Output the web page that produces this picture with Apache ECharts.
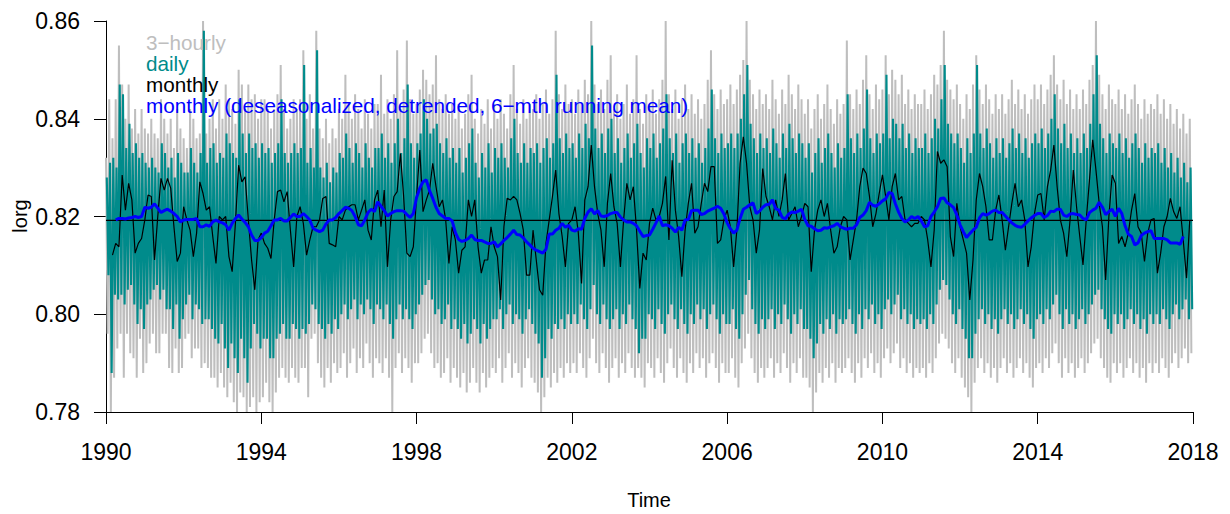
<!DOCTYPE html>
<html><head><meta charset="utf-8">
<script src="https://cdn.jsdelivr.net/npm/echarts@6/dist/echarts.min.js"></script>
<style>html,body{margin:0;padding:0;background:#fff}#c{width:1230px;height:514px}</style>
</head><body><div id="c"></div>
<script>
// ---- data (months counted from Jan 1990) ----
const yearTicks = [1990,1994,1998,2002,2006,2010,2014,2018];
const yTicks = [0.78,0.80,0.82,0.84,0.86];
const meanLevel = 0.8192;

// 3-hourly series: monthly max / min (one row per year, 1990..2017)
const grayHi = [
.832,.844,.836,.844,.855,.847,.840,.847,.838,.842,.837,.842,
.838,.837,.840,.837,.836,.844,.840,.837,.840,.834,.842,.838,
.836,.834,.842,.840,.836,.837,.860,.837,.840,.844,.838,.844,
.840,.847,.844,.842,.839,.850,.847,.842,.847,.844,.845,.840,
.844,.844,.842,.838,.842,.845,.851,.842,.838,.840,.844,.842,
.844,.854,.840,.845,.838,.858,.838,.836,.840,.835,.838,.836,
.842,.840,.849,.843,.840,.845,.842,.838,.844,.841,.838,.843,
.843,.849,.841,.844,.840,.845,.854,.842,.846,.856,.844,.841,
.843,.846,.850,.848,.845,.847,.853,.844,.842,.845,.841,.843,
.840,.843,.838,.841,.845,.849,.840,.837,.842,.839,.844,.838,
.843,.840,.844,.841,.838,.845,.851,.842,.839,.844,.840,.843,
.842,.845,.840,.843,.846,.841,.844,.858,.845,.842,.847,.843,
.844,.841,.846,.843,.848,.845,.860,.847,.843,.846,.842,.848,
.853,.842,.845,.840,.843,.847,.841,.844,.853,.842,.839,.845,
.843,.846,.841,.844,.848,.860,.845,.842,.846,.840,.844,.847,
.842,.845,.841,.844,.840,.843,.848,.854,.845,.842,.846,.843,
.844,.847,.843,.846,.849,.852,.860,.848,.845,.842,.846,.843,
.845,.842,.848,.844,.841,.846,.843,.849,.845,.842,.847,.844,
.841,.844,.838,.842,.845,.840,.843,.847,.842,.839,.844,.841,
.843,.856,.845,.842,.846,.843,.848,.853,.845,.842,.847,.844,
.846,.853,.845,.850,.848,.845,.849,.843,.846,.842,.845,.843,
.843,.846,.842,.845,.849,.847,.851,.858,.848,.846,.844,.847,
.843,.840,.845,.842,.847,.853,.846,.843,.847,.844,.841,.845,
.842,.845,.841,.844,.848,.843,.846,.842,.845,.841,.844,.847,
.844,.847,.843,.846,.849,.853,.847,.844,.848,.843,.846,.842,
.845,.842,.846,.843,.848,.851,.860,.849,.845,.842,.847,.844,
.843,.846,.842,.845,.841,.844,.847,.843,.840,.844,.841,.843,
.842,.845,.841,.844,.840,.843,.839,.842,.838,.841,.837,.840];
const grayLo = [
.796,.780,.787,.793,.796,.787,.796,.792,.791,.787,.795,.788,
.790,.794,.796,.792,.792,.796,.796,.789,.788,.793,.788,.789,
.795,.796,.791,.793,.793,.789,.790,.789,.787,.787,.785,.788,
.785,.783,.786,.782,.780,.784,.783,.780,.781,.783,.780,.782,
.783,.786,.782,.780,.784,.787,.789,.787,.786,.789,.787,.786,
.789,.789,.783,.795,.796,.790,.787,.785,.789,.786,.790,.788,
.789,.792,.787,.790,.793,.788,.791,.789,.794,.790,.787,.791,
.790,.788,.791,.787,.780,.789,.792,.788,.791,.789,.786,.790,
.790,.792,.795,.796,.792,.789,.790,.787,.788,.791,.786,.789,
.787,.785,.788,.784,.786,.789,.786,.784,.788,.785,.787,.789,
.788,.791,.786,.789,.792,.787,.790,.788,.785,.789,.791,.787,
.786,.784,.780,.783,.787,.785,.788,.786,.789,.787,.790,.788,
.790,.788,.792,.789,.787,.791,.795,.790,.788,.792,.789,.786,
.789,.791,.787,.790,.788,.792,.789,.787,.789,.787,.785,.790,
.789,.787,.791,.788,.786,.790,.793,.789,.787,.791,.788,.786,
.790,.788,.792,.789,.791,.787,.790,.792,.789,.786,.790,.788,
.788,.791,.787,.785,.790,.793,.796,.791,.788,.786,.789,.787,
.789,.791,.787,.790,.788,.792,.789,.786,.790,.788,.791,.787,
.787,.785,.780,.784,.788,.786,.789,.787,.790,.786,.789,.788,
.789,.791,.788,.786,.790,.787,.791,.789,.792,.788,.790,.787,
.791,.793,.790,.792,.794,.789,.791,.788,.790,.787,.789,.788,
.789,.787,.790,.788,.791,.794,.796,.795,.793,.790,.788,.791,
.787,.785,.783,.780,.786,.789,.791,.788,.790,.787,.789,.786,
.789,.791,.788,.790,.787,.789,.791,.788,.790,.787,.785,.789,
.790,.788,.791,.789,.792,.794,.790,.787,.791,.788,.790,.787,
.789,.791,.788,.790,.792,.794,.795,.791,.789,.787,.786,.790,
.788,.790,.787,.789,.791,.788,.790,.787,.789,.786,.790,.788,
.790,.788,.791,.789,.787,.790,.792,.789,.791,.793,.790,.792];
// daily series: monthly max / min
const tealHi = [
.828,.831,.832,.830,.847,.845,.834,.839,.833,.835,.832,.833,
.831,.830,.832,.830,.829,.835,.833,.830,.832,.828,.833,.831,
.829,.829,.834,.831,.829,.833,.858,.831,.834,.835,.831,.833,
.832,.837,.835,.833,.832,.844,.837,.833,.837,.834,.835,.832,
.835,.833,.834,.831,.833,.835,.844,.833,.831,.833,.835,.833,
.834,.851,.831,.834,.830,.854,.830,.828,.831,.827,.830,.829,
.833,.832,.837,.834,.831,.835,.833,.830,.835,.832,.830,.834,
.834,.837,.832,.835,.831,.835,.840,.833,.836,.847,.835,.832,
.835,.837,.844,.840,.837,.838,.839,.835,.833,.836,.832,.834,
.831,.834,.829,.832,.835,.838,.831,.828,.833,.830,.835,.829,
.834,.832,.835,.832,.830,.836,.840,.833,.831,.835,.831,.834,
.833,.835,.831,.834,.836,.832,.835,.849,.836,.833,.837,.834,
.835,.832,.837,.834,.839,.836,.855,.838,.834,.837,.833,.838,
.840,.833,.836,.831,.834,.837,.832,.835,.839,.833,.830,.836,
.834,.837,.832,.835,.838,.845,.836,.833,.837,.831,.835,.837,
.833,.836,.832,.835,.831,.834,.838,.846,.836,.833,.837,.834,
.835,.837,.834,.837,.840,.845,.851,.839,.836,.833,.837,.834,
.836,.833,.838,.835,.832,.837,.834,.839,.836,.833,.837,.835,
.832,.835,.829,.833,.836,.831,.834,.837,.833,.830,.835,.832,
.834,.845,.836,.833,.837,.834,.838,.846,.836,.833,.837,.835,
.837,.849,.836,.840,.839,.836,.839,.834,.837,.833,.836,.834,
.834,.837,.833,.836,.840,.838,.844,.851,.839,.837,.835,.837,
.834,.831,.836,.833,.837,.851,.837,.834,.838,.835,.832,.836,
.833,.836,.832,.835,.838,.834,.837,.833,.836,.832,.835,.837,
.835,.838,.834,.837,.840,.845,.838,.835,.839,.834,.837,.833,
.836,.833,.837,.834,.839,.845,.853,.839,.836,.833,.837,.835,
.834,.837,.833,.836,.832,.835,.837,.834,.831,.835,.832,.834,
.833,.835,.831,.834,.830,.833,.829,.832,.828,.831,.827,.830];
const tealLo = [
.808,.788,.804,.803,.804,.802,.805,.806,.802,.798,.801,.797,
.802,.803,.805,.806,.803,.805,.801,.801,.797,.802,.795,.799,
.802,.804,.799,.802,.801,.798,.799,.799,.797,.795,.794,.798,
.793,.789,.794,.791,.788,.795,.791,.786,.793,.798,.796,.793,
.795,.795,.791,.791,.795,.796,.798,.795,.795,.798,.797,.795,
.797,.796,.798,.802,.801,.798,.797,.795,.798,.796,.799,.797,
.800,.802,.799,.801,.803,.799,.802,.800,.803,.801,.798,.802,
.801,.799,.802,.798,.795,.799,.802,.799,.801,.799,.797,.800,
.802,.804,.806,.807,.803,.800,.801,.798,.799,.802,.797,.799,
.797,.795,.798,.794,.796,.799,.797,.794,.798,.795,.797,.799,
.799,.801,.797,.800,.802,.798,.800,.799,.796,.799,.801,.798,
.796,.794,.787,.791,.797,.795,.798,.797,.799,.797,.800,.798,
.800,.798,.802,.799,.797,.801,.806,.800,.798,.802,.799,.797,
.799,.801,.797,.800,.798,.802,.799,.797,.792,.795,.795,.800,
.799,.797,.801,.798,.796,.800,.802,.799,.797,.801,.798,.796,
.800,.798,.802,.799,.801,.797,.800,.802,.799,.796,.800,.798,
.798,.801,.797,.795,.800,.804,.807,.801,.798,.796,.799,.797,
.799,.801,.797,.800,.798,.802,.799,.796,.800,.798,.801,.797,
.797,.795,.791,.794,.798,.796,.799,.797,.800,.796,.799,.798,
.799,.801,.798,.796,.800,.797,.801,.799,.802,.798,.800,.797,
.801,.803,.800,.802,.804,.799,.801,.798,.800,.797,.799,.798,
.799,.797,.800,.798,.802,.805,.807,.806,.803,.800,.798,.801,
.797,.795,.791,.791,.796,.799,.801,.798,.800,.797,.799,.796,
.799,.801,.798,.800,.797,.799,.801,.798,.800,.797,.795,.799,
.800,.798,.801,.799,.802,.804,.800,.797,.801,.798,.800,.797,
.799,.801,.798,.800,.802,.804,.805,.801,.799,.797,.796,.800,
.798,.800,.797,.799,.801,.798,.800,.797,.799,.796,.800,.798,
.800,.798,.801,.799,.797,.800,.802,.799,.801,.803,.799,.801];

// monthly means, from month 2 (Mar 1990) to month 335 (Dec 2017)
const monthlyStart = 2;
const monthly = [
0.8121,0.8145,0.8138,0.8285,0.8213,0.8268,0.8234,0.8125,0.8145,0.8155,
0.8193,0.8244,0.8241,0.8111,0.8200,0.8278,0.8254,0.8278,0.8258,0.8179,
0.8108,0.8125,0.8220,0.8193,0.8172,0.8118,0.8166,0.8271,0.8247,0.8213,
0.8220,0.8159,0.8104,0.8200,0.8193,0.8200,0.8118,0.8087,0.8186,0.8305,
0.8271,0.8281,0.8193,0.8111,0.8050,0.8152,0.8166,0.8145,0.8135,0.8114,
0.8193,0.8251,0.8254,0.8230,0.8251,0.8172,0.8097,0.8200,0.8220,0.8186,
0.8121,0.8152,0.8179,0.8179,0.8193,0.8237,0.8241,0.8145,0.8142,0.8138,
0.8200,0.8193,0.8213,0.8220,0.8224,0.8224,0.8193,0.8213,0.8234,0.8172,
0.8152,0.8234,
0.8254,0.8179,0.8254,0.8097,0.8193,0.8241,0.8251,0.8329,0.8241,0.8125,
0.8118,0.8138,0.8241,0.8336,0.8210,0.8234,0.8254,0.8309,0.8261,0.8220,
0.8234,0.8193,0.8104,0.8179,0.8152,0.8084,0.8131,0.8138,0.8234,0.8200,
0.8234,0.8138,0.8084,0.8111,0.8111,0.8179,0.8138,0.8118,0.8029,0.8179,
0.8237,0.8234,
0.8241,0.8234,0.8206,0.8172,0.8080,0.8080,0.8172,0.8111,0.8050,0.8039,
0.8145,0.8193,0.8241,0.8295,0.8206,0.8159,0.8097,0.8186,0.8193,0.8220,
0.8166,0.8063,0.8234,0.8261,0.8346,0.8261,0.8206,0.8172,0.8097,0.8227,
0.8288,0.8220,0.8186,0.8097,0.8193,0.8268,0.8234,0.8261,0.8172,0.8053,
0.8125,
0.8111,0.8186,0.8217,0.8193,0.8200,0.8227,0.8282,0.8152,0.8315,0.8213,
0.8159,0.8077,0.8172,0.8227,0.8268,0.8166,0.8179,0.8227,0.8268,0.8251,
0.8302,0.8302,0.8145,0.8152,0.8193,0.8213,0.8179,0.8097,0.8172,0.8309,
0.8363,0.8309,0.8220,0.8193,0.8125,0.8172,0.8298,0.8241,0.8220,0.8193,
0.8234,0.8200,
0.8234,0.8288,0.8193,0.8206,0.8220,0.8179,0.8200,0.8227,0.8220,0.8087,
0.8172,0.8213,0.8234,0.8200,0.8227,0.8172,0.8125,0.8138,0.8179,0.8200,
0.8193,0.8111,0.8152,0.8193,0.8261,0.8299,0.8288,0.8241,0.8179,0.8206,
0.8247,0.8285,0.8241,0.8193,0.8261,0.8288,0.8234,0.8241,0.8193,0.8186,
0.8179,0.8186,
0.8186,0.8200,0.8193,0.8152,0.8097,0.8172,0.8333,0.8309,0.8316,0.8302,
0.8159,0.8118,0.8227,0.8179,0.8152,0.8125,0.8029,0.8111,0.8234,0.8288,
0.8261,0.8220,0.8152,0.8152,0.8213,0.8244,0.8193,0.8131,0.8179,0.8227,
0.8268,0.8220,0.8234,0.8193,0.8097,0.8138,0.8206,0.8244,0.8247,0.8193,
0.8261,0.8295,
0.8346,0.8261,0.8193,0.8166,0.8118,0.8193,0.8295,0.8220,0.8159,0.8101,
0.8193,0.8275,0.8357,0.8295,0.8227,0.8179,0.8070,0.8200,0.8285,0.8268,
0.8145,0.8159,0.8138,0.8166,0.8213,0.8247,0.8179,0.8166,0.8108,0.8166,
0.8193,0.8196,0.8084,0.8125,0.8179,0.8200,0.8237,0.8210,0.8196,0.8220,
0.8150,0.8074,0.8193];

// deseasonalized, detrended, 6-month running mean, month 3 .. month 333
const smoothStart = 3;
const smooth = [
0.8193,0.8196,0.8196,0.8195,0.8197,0.8198,0.8200,0.8198,0.8200,0.8219,
0.8217,0.8219,0.8226,0.8217,0.8208,0.8212,0.8215,0.8211,0.8206,0.8200,
0.8189,0.8193,0.8194,0.8194,0.8194,0.8196,0.8179,0.8179,0.8183,0.8180,
0.8189,0.8193,0.8189,0.8187,0.8183,0.8172,0.8186,0.8196,0.8203,
0.8195,0.8188,0.8179,0.8162,0.8151,0.8151,0.8157,0.8166,0.8170,0.8181,
0.8193,0.8193,0.8196,0.8191,0.8191,0.8198,0.8205,0.8200,0.8200,0.8206,
0.8200,0.8193,0.8176,0.8172,0.8169,0.8172,0.8185,0.8193,0.8193,0.8198,
0.8206,0.8212,0.8219,0.8217,0.8212,0.8200,0.8183,0.8181,0.8193,0.8208,
0.8215,0.8210,
0.8230,0.8221,0.8212,0.8201,0.8206,0.8210,0.8212,0.8212,0.8211,0.8204,
0.8198,0.8206,0.8239,0.8258,0.8271,0.8275,0.8253,0.8237,0.8219,0.8206,
0.8201,0.8196,0.8196,0.8191,0.8167,0.8153,0.8149,0.8151,0.8155,0.8162,
0.8153,0.8151,0.8151,0.8148,0.8145,0.8145,0.8148,0.8138,0.8144,0.8151,
0.8157,0.8164,
0.8172,0.8163,0.8162,0.8156,0.8148,0.8142,0.8135,0.8131,0.8128,0.8125,
0.8133,0.8164,0.8164,0.8172,0.8176,0.8186,0.8178,0.8182,0.8172,0.8170,
0.8175,0.8174,0.8196,0.8209,0.8216,0.8205,0.8212,0.8201,0.8200,0.8202,
0.8206,0.8208,0.8208,0.8199,0.8193,0.8189,0.8189,0.8186,0.8181,0.8170,
0.8159,0.8161,
0.8162,0.8174,0.8187,0.8201,0.8181,0.8183,0.8181,0.8176,0.8168,0.8178,
0.8172,0.8193,0.8194,0.8212,0.8213,0.8213,0.8204,0.8206,0.8211,0.8214,
0.8217,0.8221,0.8217,0.8205,0.8187,0.8175,0.8166,0.8172,0.8196,0.8215,
0.8219,0.8224,0.8228,0.8206,0.8211,0.8219,0.8224,0.8225,0.8234,0.8216,
0.8213,0.8198,
0.8195,0.8205,0.8209,0.8208,0.8211,0.8215,0.8194,0.8181,0.8180,0.8175,
0.8171,0.8172,0.8177,0.8176,0.8179,0.8181,0.8186,0.8179,0.8176,0.8174,
0.8176,0.8176,0.8183,0.8198,0.8203,0.8212,0.8229,0.8223,0.8221,0.8226,
0.8232,0.8236,0.8249,0.8247,0.8226,0.8209,0.8196,0.8189,0.8193,0.8200,
0.8196,0.8200,
0.8191,0.8179,0.8181,0.8200,0.8209,0.8220,0.8237,0.8238,0.8228,0.8224,
0.8218,0.8203,0.8183,0.8169,0.8157,0.8165,0.8172,0.8178,0.8197,0.8206,
0.8203,0.8206,0.8211,0.8213,0.8208,0.8208,0.8201,0.8194,0.8187,0.8182,
0.8179,0.8178,0.8184,0.8191,0.8197,0.8202,0.8206,0.8206,0.8198,0.8202,
0.8211,0.8210,
0.8215,0.8215,0.8203,0.8200,0.8205,0.8206,0.8204,0.8203,0.8196,0.8193,
0.8208,0.8213,0.8217,0.8229,0.8219,0.8204,0.8210,0.8215,0.8200,0.8217,
0.8206,0.8181,0.8164,0.8159,0.8142,0.8146,0.8161,0.8166,0.8169,0.8171,
0.8155,0.8155,0.8155,0.8155,0.8152,0.8146,0.8146,0.8146,0.8143,0.8159];

const legendLabels = ['3\u2212hourly','daily','monthly','monthly (deseasonalized, detrended, 6\u2212mth running mean)'];
const colors = {gray:'#BEBEBE', teal:'#008B8B', black:'#000000', blue:'#0000FF'};

// ---- build ----
function zigzag(hi, lo, phase){
  const d = [];
  for (let m = 0; m < hi.length; m++) { d.push([m + phase, hi[m]]); d.push([m + phase + 0.5, lo[m]]); }
  return d;
}
const FONT = "'Liberation Sans', Arial, Helvetica, sans-serif";
const chart = echarts.init(document.getElementById('c'), null, {renderer:'svg'});
const legendY = [42, 63, 84, 105];
const legendCols = [colors.gray, colors.teal, colors.black, colors.blue];
const graphics = legendLabels.map((t,i)=>({
  type:'text', x:146, y:legendY[i], z:100,
  style:{text:t, fill:legendCols[i], font:'20.7px '+FONT, textAlign:'left', textVerticalAlign:'middle', align:'left', verticalAlign:'middle'}
}));
graphics.push({type:'text', x:649, y:500, style:{text:'Time', fill:'#000', font:'20px '+FONT, textAlign:'center', textVerticalAlign:'middle', align:'center', verticalAlign:'middle'}});
graphics.push({type:'text', x:20, y:216, rotation:Math.PI/2, style:{text:'lorg', fill:'#000', font:'20px '+FONT, textAlign:'center', textVerticalAlign:'middle', align:'center', verticalAlign:'middle'}});

chart.setOption({
  animation:false,
  backgroundColor:'#fff',
  grid:{left:106, right:37, top:21, bottom:102, containLabel:false},
  xAxis:{type:'value', min:0, max:336, interval:48,
    axisLine:{show:true, onZero:false, lineStyle:{color:'#000', width:1}},
    axisTick:{show:true, length:12, lineStyle:{color:'#000'}},
    axisLabel:{color:'#000', fontSize:23, fontFamily:FONT, margin:28,
      formatter:v=>String(yearTicks[Math.round(v/48)])},
    splitLine:{show:false}},
  yAxis:{type:'value', min:0.78, max:0.86, interval:0.02,
    axisLine:{show:true, onZero:false, lineStyle:{color:'#000', width:1}},
    axisTick:{show:true, length:12, lineStyle:{color:'#000'}},
    axisLabel:{color:'#000', fontSize:23, fontFamily:FONT, margin:26,
      formatter:v=>v.toFixed(2)},
    splitLine:{show:false}},
  graphic:graphics,
  series:[
    {type:'line', name:legendLabels[0], data:zigzag(grayHi, grayLo, 0.0), symbol:'none', silent:true,
      lineStyle:{color:colors.gray, width:2}, z:1},
    {type:'line', name:legendLabels[1], data:zigzag(tealHi, tealLo, 0.25), symbol:'none', silent:true,
      lineStyle:{color:colors.teal, width:2.1}, z:2},
    {type:'line', name:legendLabels[2], data:monthly.map((v,i)=>[monthlyStart+i, v]), symbol:'none', silent:true,
      lineStyle:{color:colors.black, width:1.2}, z:3},
    {type:'line', name:'mean', data:[[0, meanLevel],[336, meanLevel]], symbol:'none', silent:true,
      lineStyle:{color:colors.black, width:1.2}, z:4},
    {type:'line', name:legendLabels[3], data:smooth.map((v,i)=>[smoothStart+i, v]), symbol:'none', silent:true,
      lineStyle:{color:colors.blue, width:3}, z:5}
  ]
});
</script></body></html>
